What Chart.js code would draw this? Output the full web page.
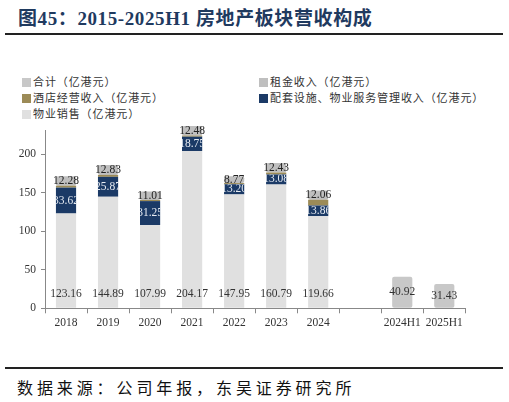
<!DOCTYPE html>
<html><head><meta charset="utf-8">
<script src="https://cdn.jsdelivr.net/npm/chart.js@4.4.1/dist/chart.umd.min.js"></script>
<style>
html,body{margin:0;padding:0;background:#fff;width:509px;height:402px;overflow:hidden;position:relative;font-family:"Liberation Serif","Noto Sans CJK SC",serif;}
#title{position:absolute;left:18px;top:3px;font-size:19px;letter-spacing:0.6px;font-weight:bold;color:#1f3a5f;white-space:nowrap;font-family:"Liberation Serif","Noto Sans CJK SC",serif;}
#rule1{position:absolute;left:5px;top:33px;width:498px;height:2px;background:#222;}
#rule2{position:absolute;left:5px;top:367px;width:498px;height:2px;background:#222;}
#source{position:absolute;left:17px;top:375px;font-size:16px;letter-spacing:3.9px;color:#111;white-space:nowrap;font-family:"Noto Sans CJK SC",sans-serif;}
.lg{position:absolute;font-size:11px;letter-spacing:0.9px;color:#333;white-space:nowrap;font-family:"Noto Sans CJK SC",sans-serif;line-height:14px;}
.lg i{display:inline-block;width:9px;height:9px;margin-right:2px;vertical-align:-1px;}
#wrap{position:absolute;left:0;top:40px;width:509px;height:310px;}
</style></head>
<body>
<div id="title">图45：2015-2025H1 房地产板块营收构成</div>
<div id="rule1"></div>
<div id="legend"></div>
<div id="wrap"><canvas id="c"></canvas></div>
<div id="rule2"></div>
<div id="source">数据来源：公司年报，东吴证券研究所</div>
<script>
const categories = ['2018','2019','2020','2021','2022','2023','2024','','2024H1','2025H1'];
const propertySales = [123.16,144.89,107.99,204.17,147.95,160.79,119.66,null,null,null];
const servicesIncome = [33.62,25.87,31.25,18.75,13.20,13.08,13.86,null,null,null];
const hotelIncome = [2.5,2.5,1.5,1.5,1.5,2.5,7.5,null,null,null];
const rentalIncome = [12.28,12.83,11.01,12.48,8.77,12.43,12.06,null,null,null];
const totalIncome = [null,null,null,null,null,null,null,null,40.92,31.43];
const yTicks = [0,50,100,150,200];

const names = {
  total:'合计（亿港元）', rent:'租金收入（亿港元）', hotel:'酒店经营收入（亿港元）',
  services:'配套设施、物业服务管理收入（亿港元）', sales:'物业销售（亿港元）'
};
const colors = {total:'#c8c8c8', rent:'#bfbfbf', hotel:'#9c8b57', services:'#1b3a66', sales:'#e0e0e0'};

// HTML legend (2 columns)
const lgItems = [
  ['total',22,74],['rent',259,74],
  ['hotel',22,90],['services',259,90],
  ['sales',22,106]
];
const lg = document.getElementById('legend');
lgItems.forEach(([k,x,y])=>{
  const d=document.createElement('div'); d.className='lg';
  d.style.left=x+'px'; d.style.top=y+'px';
  d.innerHTML='<i style="background:'+colors[k]+'"></i>'+names[k];
  lg.appendChild(d);
});

function ds(key,data,labelMode,labelColor){
  return {label:names[key],data:data,backgroundColor:colors[key],stack:'s',
    borderRadius:2,borderSkipped:false,clip:false,barPercentage:0.96,categoryPercentage:0.5,
    labelMode:labelMode,labelColor:labelColor};
}

const labelPlugin={
  id:'barLabels',
  afterDatasetsDraw(chart){
    const ctx=chart.ctx;
    chart.data.datasets.forEach((d,i)=>{
      if(!d.labelMode) return;
      const meta=chart.getDatasetMeta(i);
      meta.data.forEach((el,j)=>{
        const v=d.data[j]; if(v==null) return;
        const p=el.getProps(['x','y','base','width'],true);
        const top=Math.min(p.y,p.base), bot=Math.max(p.y,p.base);
        let ty=(top+bot)/2;
        if(d.labelMode==='bottom') ty=bot-14;
        ctx.save();
        if(d.labelMode==='clip'){
          ctx.beginPath(); ctx.rect(p.x-p.width/2,top,p.width,bot-top); ctx.clip();
        }
        ctx.font='11.5px "Liberation Serif"';
        ctx.fillStyle=d.labelColor; ctx.textAlign='center'; ctx.textBaseline='middle';
        ctx.fillText(v.toFixed(2),p.x,ty);
        ctx.restore();
      });
    });
  }
};

new Chart(document.getElementById('c'),{
  type:'bar',
  data:{labels:categories,datasets:[
    ds('sales',propertySales,'bottom','#333'),
    ds('services',servicesIncome,'clip','#e6ebf2'),
    ds('hotel',hotelIncome,null,null),
    ds('rent',rentalIncome,'center','#222'),
    ds('total',totalIncome,'center','#333')
  ]},
  options:{
    responsive:true,maintainAspectRatio:false,animation:false,
    layout:{padding:{top:90,right:43.7,bottom:0,left:0}},
    plugins:{legend:{display:false},tooltip:{enabled:false}},
    scales:{
      x:{stacked:true,offset:true,
        grid:{offset:true,drawOnChartArea:false,drawTicks:true,tickLength:5,color:'#888'},
        border:{display:true,color:'#888'},
        ticks:{font:{family:'Liberation Serif',size:11.5},color:'#333',padding:3,maxRotation:0,autoSkip:false},
        afterFit(s){s.height=41.7;}
      },
      y:{stacked:true,min:0,max:231.6,
        grid:{drawOnChartArea:false,drawTicks:true,tickLength:4,color:'#888'},
        border:{display:true,color:'#888'},
        ticks:{stepSize:50,font:{family:'Liberation Serif',size:11.5},color:'#333',padding:5},
        afterBuildTicks(s){s.ticks=yTicks.map(v=>({value:v}));},
        afterFit(s){s.width=45;}
      }
    }
  },
  plugins:[labelPlugin]
});
</script>
</body></html>
